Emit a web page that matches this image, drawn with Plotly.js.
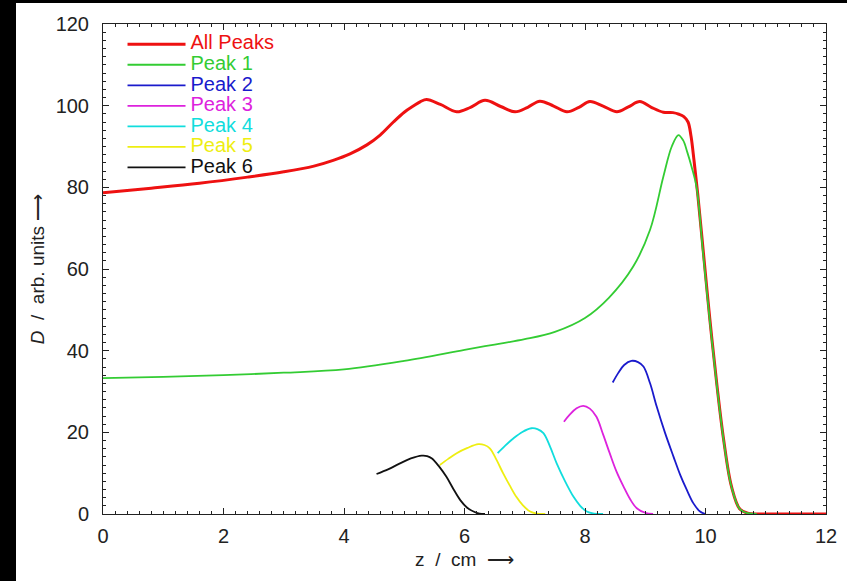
<!DOCTYPE html>
<html>
<head>
<meta charset="utf-8">
<script src="https://cdn.plot.ly/plotly-3.0.1.min.js"></script>
<style>
  html, body { margin: 0; padding: 0; background: #000; width: 847px; height: 581px; overflow: hidden; }
  #chart { position: absolute; left: 16px; top: 3px; width: 831px; height: 578px; background: #fff; }
</style>
</head>
<body>
<div id="chart"></div>
<script>
// ---- data ----
const seriesNames = ["All Peaks", "Peak 1", "Peak 2", "Peak 3", "Peak 4", "Peak 5", "Peak 6"];

const zAll = [0, 0.8, 1.6, 2.4, 3.0, 3.5, 3.82, 4.1, 4.38, 4.6, 4.82, 5.0, 5.15, 5.27, 5.37, 5.6, 5.87, 6.1, 6.34, 6.6, 6.84, 7.05, 7.25, 7.48, 7.7, 7.9, 8.08, 8.3, 8.53, 8.72, 8.91, 9.1, 9.3, 9.46, 9.56, 9.64, 9.71, 9.76, 9.81, 9.87, 9.96, 10.07, 10.19, 10.3, 10.43, 10.57, 10.7, 10.85, 11, 12];
const dAll = [78.7, 79.8, 81.0, 82.5, 83.8, 85.2, 86.6, 88.2, 90.4, 92.8, 96.0, 98.4, 99.9, 101.0, 101.5, 100.3, 98.5, 99.6, 101.3, 99.8, 98.5, 99.6, 101.1, 99.9, 98.5, 99.6, 101, 99.9, 98.5, 99.7, 101, 99.6, 98.4, 98.3, 97.9, 97.3, 96.0, 92.5, 86.5, 78.5, 64.8, 48.0, 31.5, 18.3, 6.8, 1.2, 0.2, 0, 0, 0];

const zP1 = [0, 1, 2, 3, 4, 5, 6, 6.5, 7, 7.5, 8, 8.4, 8.8, 9.08, 9.3, 9.44, 9.55, 9.63, 9.7, 9.77, 9.85, 9.96, 10.07, 10.19, 10.3, 10.43, 10.57, 10.7, 10.85];
const dP1 = [33.3, 33.6, 34.0, 34.6, 35.4, 37.5, 40.2, 41.5, 42.8, 44.6, 48.0, 53.0, 60.6, 69.6, 82.6, 90.0, 92.8, 91.5, 88.5, 85.0, 80.2, 63.8, 47.5, 31.2, 18.1, 6.7, 1.2, 0.2, 0];

const zP2 = [8.46, 8.55, 8.65, 8.77, 8.88, 8.97, 9.08, 9.19, 9.33, 9.47, 9.58, 9.69, 9.8, 9.91, 10.0];
const dP2 = [32.2, 34.5, 36.5, 37.5, 37.2, 36.1, 32.0, 26.3, 19.8, 14.0, 9.6, 5.9, 2.6, 0.6, 0];

const zP3 = [7.65, 7.75, 7.86, 7.97, 8.08, 8.19, 8.3, 8.41, 8.52, 8.64, 8.75, 8.86, 9.0, 9.13];
const dP3 = [22.6, 24.4, 25.9, 26.5, 25.8, 23.8, 19.5, 14.9, 10.5, 6.7, 3.6, 1.4, 0.3, 0];

const zP4 = [6.55, 6.68, 6.81, 6.96, 7.11, 7.21, 7.31, 7.42, 7.53, 7.67, 7.81, 7.92, 8.03, 8.15, 8.3];
const dP4 = [14.9, 16.8, 18.5, 20.1, 21.0, 20.8, 19.8, 16.5, 12.4, 8.0, 4.2, 2.0, 0.6, 0.1, 0];

const zP5 = [5.59, 5.73, 5.87, 6.05, 6.23, 6.33, 6.42, 6.53, 6.64, 6.75, 6.86, 6.97, 7.09, 7.2, 7.34];
const dP5 = [12.0, 13.5, 14.9, 16.2, 17.1, 16.9, 16.1, 13.3, 10.0, 7.0, 4.2, 2.1, 0.6, 0.1, 0];

const zP6 = [4.54, 4.74, 4.93, 5.11, 5.29, 5.38, 5.46, 5.58, 5.7, 5.82, 5.93, 6.04, 6.15, 6.25, 6.34];
const dP6 = [9.8, 11.0, 12.4, 13.6, 14.3, 14.2, 13.6, 11.6, 9.1, 6.0, 3.4, 1.6, 0.6, 0.1, 0];

const xTicks = [0, 2, 4, 6, 8, 10, 12];
const yTicks = [0, 20, 40, 60, 80, 100, 120];

// ---- styling ----
const colors = ["#ee1111", "#33cc33", "#1a1acc", "#dd22dd", "#11dddd", "#eeee11", "#111111"];
const widths = [3, 1.8, 1.8, 1.8, 1.8, 1.8, 1.8];
const zs = [zAll, zP1, zP2, zP3, zP4, zP5, zP6];
const ds = [dAll, dP1, dP2, dP3, dP4, dP5, dP6];

const FONT = "Liberation Sans, Arial, Helvetica, sans-serif";

const traces = seriesNames.map((n, i) => ({
  type: "scatter",
  mode: "lines",
  x: zs[i],
  y: ds[i],
  name: '<span style="color:' + colors[i] + ';font-size:20px">' + n + '</span>',
  line: { color: colors[i], width: widths[i], shape: "spline", smoothing: 1 },
  hoverinfo: "x+y"
}));

const layout = {
  width: 831,
  height: 578,
  margin: { l: 87, r: 21, t: 21, b: 67 },
  paper_bgcolor: "#ffffff",
  plot_bgcolor: "#ffffff",
  font: { family: FONT, color: "#222" },
  showlegend: true,
  legend: {
    x: 0.027, y: 0.99, xanchor: "left", yanchor: "top",
    bgcolor: "rgba(255,255,255,0)",
    borderwidth: 0,
    font: { family: FONT, size: 13.5, color: "#222" },
    itemwidth: 58,
    tracegroupgap: 0
  },
  xaxis: {
    range: [0, 12],
    tickvals: xTicks,
    ticktext: xTicks.map(String),
    ticks: "inside", ticklen: 6, tickwidth: 1, tickcolor: "#222",
    minor: { dtick: 0.2, ticks: "inside", ticklen: 3, tickwidth: 1, tickcolor: "#222", showgrid: false },
    showline: true, linecolor: "#222", linewidth: 1, mirror: "allticks",
    showgrid: false, zeroline: false,
    tickfont: { family: FONT, size: 20, color: "#222" },
    ticklabelstandoff: 4,
    title: { text: "z\u00a0\u00a0/\u00a0\u00a0cm\u00a0\u00a0\u27f6", font: { family: FONT, size: 19, color: "#222" }, standoff: 6 }
  },
  yaxis: {
    range: [0, 120],
    tickvals: yTicks,
    ticktext: yTicks.map(String),
    ticks: "inside", ticklen: 6, tickwidth: 1, tickcolor: "#222",
    minor: { dtick: 2, ticks: "inside", ticklen: 3, tickwidth: 1, tickcolor: "#222", showgrid: false },
    showline: true, linecolor: "#222", linewidth: 1, mirror: "allticks",
    showgrid: false, zeroline: false,
    tickfont: { family: FONT, size: 20, color: "#222" },
    ticklabelstandoff: 9,
    title: { text: "<i>D</i>\u00a0\u00a0/\u00a0\u00a0arb. units\u00a0\u27f6", font: { family: FONT, size: 19, color: "#222" }, standoff: 5 }
  }
};

Plotly.newPlot("chart", traces, layout, { displayModeBar: false, staticPlot: true });
</script>
</body>
</html>
